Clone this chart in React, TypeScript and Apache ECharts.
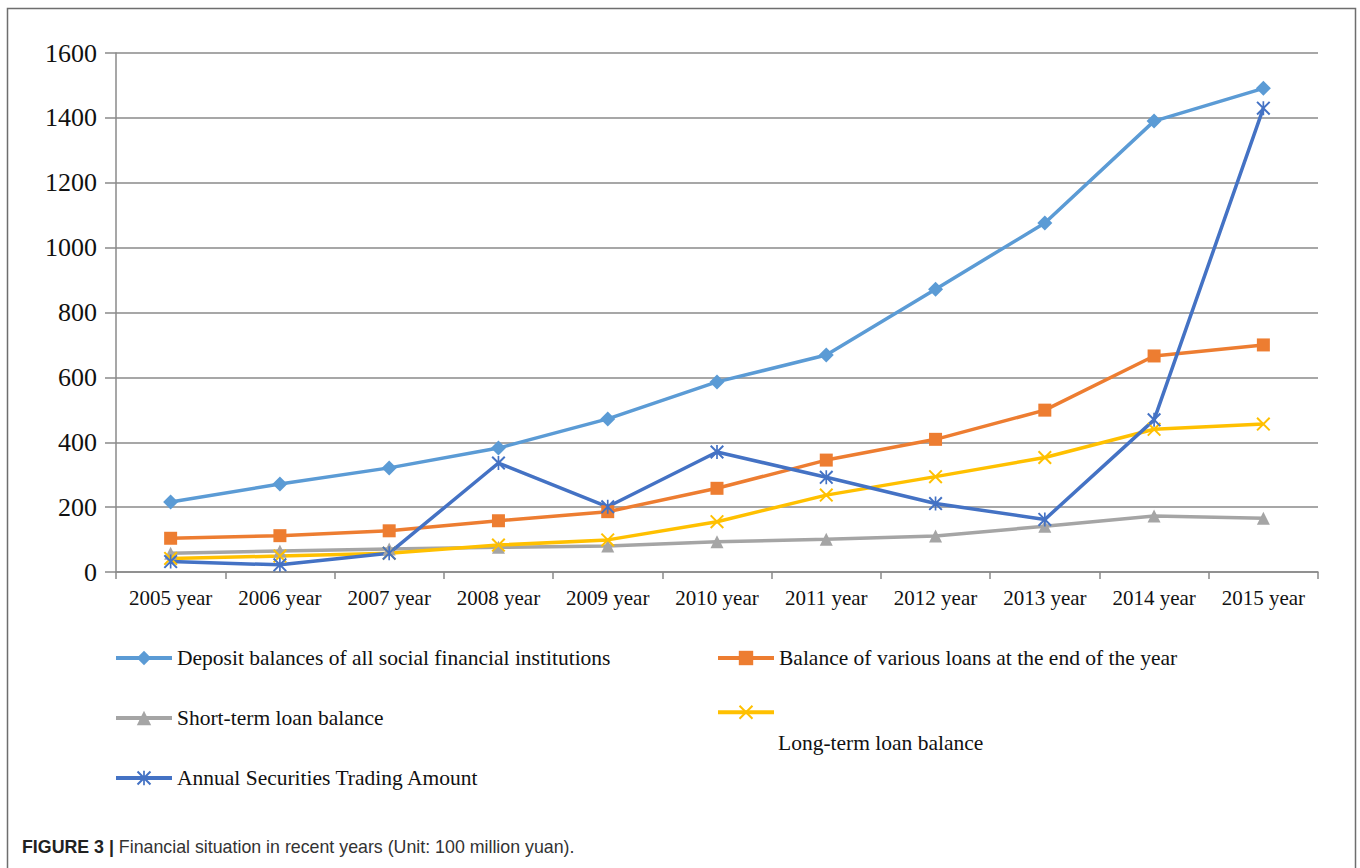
import React, { useEffect, useRef } from "react";
import * as echarts from "echarts";

const years = ["2005 year", "2006 year", "2007 year", "2008 year", "2009 year", "2010 year", "2011 year", "2012 year", "2013 year", "2014 year", "2015 year"];
const deposit = [216, 271, 321, 382, 472, 586, 669, 872, 1076, 1390, 1491];
const loans = [104, 112, 127, 158, 186, 258, 345, 409, 499, 666, 700];
const shortTerm = [58, 65, 71, 76, 80, 93, 101, 111, 141, 173, 166];
const longTerm = [42, 49, 58, 83, 99, 155, 237, 294, 353, 440, 456];
const securities = [32, 22, 58, 336, 201, 370, 292, 211, 162, 469, 1430];
const yTicks = { min: 0, max: 1600, interval: 200 };

const names = [
  "Deposit balances of all social financial institutions",
  "Balance of various loans at the end of the year",
  "Short-term loan balance",
  "Long-term loan balance",
  "Annual Securities Trading Amount",
];

const X_SYMBOL = "path://M0,1 L1,0 L10,9 L9,10 Z M9,0 L10,1 L1,10 L0,9 Z";
const STAR_SYMBOL = "path://M0,1 L1,0 L10,9 L9,10 Z M9,0 L10,1 L1,10 L0,9 Z M4.4,0 L5.6,0 L5.6,10 L4.4,10 Z";

const serif = "'Liberation Serif', 'Times New Roman', serif";

export default function App() {
  const ref = useRef<HTMLDivElement>(null);
  useEffect(() => {
    if (!ref.current) return;
    const chart = echarts.init(ref.current, null, { renderer: "svg" });
    const colors = ["#5B9BD5", "#ED7D31", "#A5A5A5", "#FFC000", "#4472C4"];
    const datas = [deposit, loans, shortTerm, longTerm, securities];
    const symbols = ["diamond", "rect", "triangle", X_SYMBOL, STAR_SYMBOL];
    const sizes = [15, 13, 13, 14, 14];
    const series = names.map((n, i) => ({
      name: n,
      type: "line",
      data: datas[i],
      symbol: symbols[i],
      symbolSize: sizes[i],
      showAllSymbol: true,
      lineStyle: { color: colors[i], width: 3.5 },
      itemStyle: { color: colors[i] },
      emphasis: { disabled: true },
    }));
    const legendBase = {
      orient: "horizontal",
      padding: 0,
      itemWidth: 56,
      itemHeight: 18,
      itemGap: 0,
      lineStyle: { width: 4 },
      textStyle: { fontFamily: serif, fontSize: 21.5, color: "#111", lineHeight: 26, padding: [0, 0, 0, 0] },
      selectedMode: false,
    };
    chart.setOption({
      animation: false,
      backgroundColor: "#ffffff",
      grid: { left: 116, right: 42, top: 53, bottom: 296, containLabel: false },
      xAxis: {
        type: "category",
        data: years,
        boundaryGap: true,
        axisLine: { lineStyle: { color: "#8a8a8a", width: 1.5 } },
        axisTick: { show: true, interval: 0, length: 7, lineStyle: { color: "#8a8a8a", width: 1.5 } },
        axisLabel: { interval: 0, fontFamily: serif, fontSize: 21, color: "#111", margin: 15 },
      },
      yAxis: {
        type: "value",
        min: yTicks.min,
        max: yTicks.max,
        interval: yTicks.interval,
        axisLine: { show: true, lineStyle: { color: "#8a8a8a", width: 1.5 } },
        axisTick: { show: true, length: 11, lineStyle: { color: "#8a8a8a", width: 1.5 } },
        splitLine: { lineStyle: { color: "#8a8a8a", width: 1.5 } },
        axisLabel: { fontFamily: serif, fontSize: 26, color: "#111", margin: 19, formatter: (v: number) => String(v) },
      },
      legend: [
        { ...legendBase, data: [names[0]], left: 114, top: 645 },
        { ...legendBase, data: [names[1]], left: 716, top: 645 },
        { ...legendBase, data: [names[2]], left: 114, top: 705 },
        { ...legendBase, data: [names[3]], left: 716, top: 705, formatter: () => "" },
        { ...legendBase, data: [names[4]], left: 114, top: 765 },
      ],
      graphic: [
        {
          type: "rect",
          shape: { x: 7.5, y: 8.5, width: 1348, height: 880 },
          style: { fill: "none", stroke: "#6e6e6e", lineWidth: 1.5 },
          silent: true,
        },
        {
          type: "text",
          x: 778,
          y: 743,
          style: { text: names[3], fontFamily: serif, fontSize: 21.5, fill: "#111", verticalAlign: "middle" },
        },
        {
          type: "text",
          x: 22,
          y: 847,
          style: {
            text: "{b|FIGURE 3 |} Financial situation in recent years (Unit: 100 million yuan).",
            fontFamily: "'Liberation Sans', Arial, sans-serif",
            fontSize: 17.8,
            fill: "#333",
            verticalAlign: "middle",
            rich: {
              b: { fontFamily: "'Liberation Sans', Arial, sans-serif", fontSize: 17.8, fontWeight: "bold", fill: "#222" },
            },
          },
        },
      ],
      series,
    });
    return () => chart.dispose();
  }, []);
  return <div ref={ref} style={{ position: "fixed", left: 0, top: 0, width: 1360, height: 868 }} />;
}
